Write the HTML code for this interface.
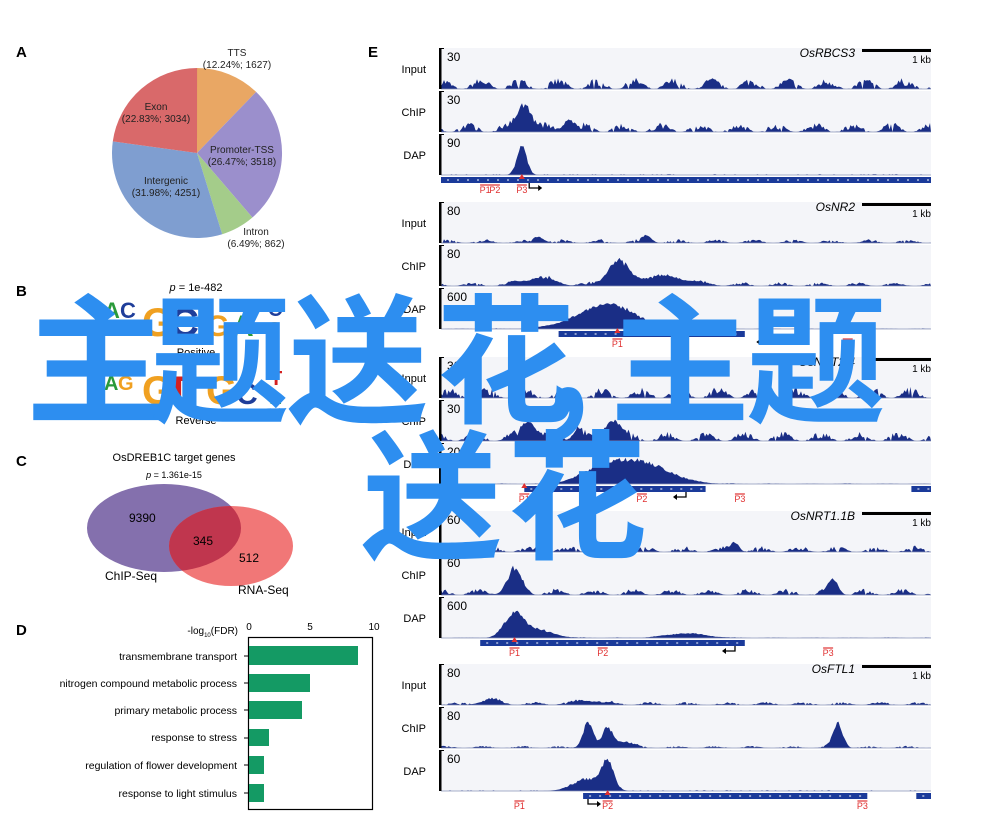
<!DOCTYPE html>
<html><head><meta charset="utf-8"><style>
body{margin:0;width:1000px;height:826px;background:#fff;position:relative;overflow:hidden;font-family:"Liberation Sans",Arial,sans-serif;}
#wm{position:absolute;left:0;top:0;font-family:"Noto Sans CJK SC",sans-serif;font-weight:bold;color:#2d8ef0;font-size:140px;line-height:1;white-space:nowrap;}
#wm span{position:absolute;}
</style></head><body>
<svg id="s" width="1000" height="826" xmlns="http://www.w3.org/2000/svg" font-family="Liberation Sans, Arial, sans-serif">
<text x="16" y="57" font-size="15" font-weight="bold">A</text>
<g id="pie"></g>
<g font-size="10" text-anchor="middle" fill="#222">
<text x="237" y="56">TTS</text><text x="237" y="68">(12.24%; 1627)</text>
<text x="156" y="110">Exon</text><text x="156" y="122">(22.83%; 3034)</text>
<text x="242" y="153">Promoter-TSS</text><text x="242" y="165">(26.47%; 3518)</text>
<text x="166" y="184">Intergenic</text><text x="166" y="196">(31.98%; 4251)</text>
<text x="256" y="235">Intron</text><text x="256" y="247">(6.49%; 862)</text>
</g>
<text x="16" y="296" font-size="15" font-weight="bold">B</text>
<text x="196" y="291" font-size="11" text-anchor="middle"><tspan font-style="italic">p</tspan> = 1e-482</text>
<g font-weight="bold" font-size="40" font-family="Liberation Sans">
<text x="104" y="318" fill="#2a9a3a" font-size="22">A</text><text x="120" y="318" fill="#1f3e9a" font-size="22">C</text>
<text x="142" y="336" fill="#f0a020">G</text><text x="170" y="336" fill="#1f3e9a">C</text>
<text x="206" y="336" fill="#f0a020" font-size="30">G</text><text x="232" y="336" fill="#2a9a3a" font-size="30">A</text>
<text x="268" y="316" fill="#1f3e9a" font-size="20">C</text><text x="268" y="333" fill="#f0a020" font-size="16">G</text>
<text x="104" y="390" fill="#2a9a3a" font-size="20">A</text><text x="118" y="390" fill="#f0a020" font-size="20">G</text>
<text x="142" y="404" fill="#f0a020">G</text><text x="166" y="404" fill="#d42020">T</text>
<text x="206" y="404" fill="#f0a020">G</text><text x="236" y="404" fill="#1f3e9a" font-size="30">C</text>
<text x="270" y="385" fill="#d42020" font-size="20">T</text><text x="270" y="404" fill="#2a9a3a" font-size="16">A</text>
</g>
<text x="196" y="356" font-size="11" text-anchor="middle">Positive</text>
<text x="196" y="424" font-size="11" text-anchor="middle">Reverse</text>
<text x="16" y="466" font-size="15" font-weight="bold">C</text>
<text x="174" y="461" font-size="11" text-anchor="middle">OsDREB1C target genes</text>
<text x="174" y="478" font-size="9" text-anchor="middle"><tspan font-style="italic">p</tspan> = 1.361e-15</text>
<ellipse cx="164" cy="528" rx="77" ry="44" fill="#8470ad"/>
<ellipse cx="231" cy="546" rx="62" ry="40" fill="#f07070" fill-opacity="0.95"/>
<clipPath id="cc"><ellipse cx="164" cy="528" rx="77" ry="44"/></clipPath>
<ellipse cx="231" cy="546" rx="62" ry="40" fill="#c0364e" clip-path="url(#cc)"/>
<g font-size="12"><text x="129" y="522">9390</text><text x="193" y="545">345</text><text x="239" y="562">512</text>
<text x="105" y="580">ChIP-Seq</text><text x="238" y="594">RNA-Seq</text></g>
<text x="16" y="635" font-size="15" font-weight="bold">D</text>
<text x="238" y="634" font-size="10" text-anchor="end">-log<tspan font-size="6" dy="3">10</tspan><tspan dy="-3">(FDR)</tspan></text>
<g font-size="10" text-anchor="middle"><text x="249" y="630">0</text><text x="310" y="630">5</text><text x="374" y="630">10</text></g>
<rect x="248.5" y="637.5" width="124" height="172" fill="none" stroke="#000" stroke-width="1.2"/>
<g fill="#149a64">
<rect x="249" y="646" width="109" height="19"/><rect x="249" y="674" width="61" height="18"/>
<rect x="249" y="701" width="53" height="18"/><rect x="249" y="729" width="20" height="17"/>
<rect x="249" y="756" width="15" height="18"/><rect x="249" y="784" width="15" height="18"/>
</g>
<g font-size="10.5" text-anchor="end">
<text x="237" y="660">transmembrane transport</text>
<text x="237" y="687">nitrogen compound metabolic process</text>
<text x="237" y="714">primary metabolic process</text>
<text x="237" y="741">response to stress</text>
<text x="237" y="769">regulation of flower development</text>
<text x="237" y="797">response to light stimulus</text>
</g>
<g stroke="#000"><line x1="244" y1="656" x2="249" y2="656"/><line x1="244" y1="683" x2="249" y2="683"/><line x1="244" y1="710" x2="249" y2="710"/><line x1="244" y1="738" x2="249" y2="738"/><line x1="244" y1="765" x2="249" y2="765"/><line x1="244" y1="793" x2="249" y2="793"/></g>
<text x="368" y="57" font-size="15" font-weight="bold">E</text>
<g id="tracks"></g>
</svg>
<div id="wm">
<span style="left:26px;top:282px">主</span>
<span style="left:150px;top:282px">题</span>
<span style="left:288px;top:282px">送</span>
<span style="left:436px;top:282px">花</span>
<span style="left:545px;top:282px">,</span>
<span style="left:610px;top:282px">主</span>
<span style="left:746px;top:282px">题</span>
<span style="left:362px;top:418px">送</span>
<span style="left:507px;top:418px">花</span>
</div>
<script>
var NS="http://www.w3.org/2000/svg";
function el(t,a,p){var e=document.createElementNS(NS,t);for(var k in a)e.setAttribute(k,a[k]);(p||document.getElementById('tracks')).appendChild(e);return e;}
var cx=197,cy=153,r=85,sl=[[12.24,'#e9a764'],[26.47,'#9b8fcc'],[6.49,'#a4cc8a'],[31.98,'#7f9ed0'],[22.83,'#d9696a']],a0=0;
sl.forEach(function(s){var a1=a0+s[0]*3.6;function pt(a){a=(a-90)*Math.PI/180;return (cx+r*Math.cos(a)).toFixed(1)+','+(cy+r*Math.sin(a)).toFixed(1);}
el('path',{d:'M'+cx+','+cy+' L'+pt(a0)+' A'+r+','+r+' 0 '+(a1-a0>180?1:0)+' 1 '+pt(a1)+' Z',fill:s[1]},document.getElementById('pie'));a0=a1;});
var seed=7;function rnd(){seed=(seed*16807)%2147483647;return seed/2147483647;}
var X0=441,X1=931,W=X1-X0;
var groups=[
 {t:46,name:'OsRBCS3',sc:['30','30','90'],tr:[[0.35,[]],[0.3,[[0.17,0.9,0.015],[0.26,0.4,0.01]]],[0.0,[[0.165,0.95,0.01]]]],
  gene:[[0,1]],P:[[0.09,'P1'],[0.11,'P2'],[0.165,'P3']],arr:[0.18,1]},
 {t:200,name:'OsNR2',sc:['80','80','600'],tr:[[0.12,[[0.2,0.2,0.01],[0.42,0.2,0.01]]],[0.12,[[0.2,0.25,0.03],[0.36,0.75,0.02],[0.45,0.3,0.05]]],[0.02,[[0.35,0.75,0.05],[0.28,0.2,0.05]]]],
  gene:[[0.24,0.62]],P:[[0.36,'P1'],[0.83,'P3']],arr:[0.67,-1]},
 {t:355,name:'OsNRT2.4',sc:['30','30','200'],tr:[[0.35,[]],[0.3,[[0.18,0.6,0.015],[0.35,0.7,0.015],[0.28,0.4,0.01]]],[0.02,[[0.4,0.75,0.06],[0.32,0.3,0.04]]]],
  gene:[[0.17,0.54],[0.96,1]],P:[[0.17,'P1'],[0.41,'P2'],[0.61,'P3']],arr:[0.5,-1]},
 {t:509,name:'OsNRT1.1B',sc:['60','60','600'],tr:[[0.2,[[0.6,0.3,0.008]]],[0.2,[[0.15,0.75,0.015],[0.8,0.5,0.01]]],[0.02,[[0.15,0.8,0.02],[0.2,0.25,0.03],[0.5,0.15,0.04]]]],
  gene:[[0.08,0.62]],P:[[0.15,'P1'],[0.33,'P2'],[0.79,'P3']],arr:[0.6,-1]},
 {t:662,name:'OsFTL1',sc:['80','80','60'],tr:[[0.1,[[0.1,0.15,0.02],[0.3,0.12,0.03]]],[0.07,[[0.3,0.85,0.01],[0.34,0.6,0.01],[0.37,0.2,0.02],[0.81,0.8,0.01]]],[0.0,[[0.34,0.9,0.012],[0.3,0.4,0.03]]]],
  gene:[[0.29,0.87],[0.97,1]],P:[[0.16,'P1'],[0.34,'P2'],[0.86,'P3']],arr:[0.3,1]}
];
var labs=['Input','ChIP','DAP'];
groups.forEach(function(g){
 for(var i=0;i<3;i++){
  var y0=g.t+2+i*43,h=41,yb=y0+h;
  el('rect',{x:X0,y:y0,width:W,height:h,fill:'#f4f5f9'});
  var tr=g.tr[i],base=tr[0],pk=tr[1],d='M'+X0+','+yb;
  for(var x=0;x<=W;x+=1.5){var f=x/W,v=0;
   if(base>0){v=base*(0.25+0.75*rnd())*(Math.pow(Math.abs(Math.sin(f*40+i+g.t*0.1)),2));if(rnd()<0.04)v=0;}
   else if(rnd()<0.15)v=0.02;
   pk.forEach(function(p){var z=(f-p[0])/p[2];v+=p[1]*Math.exp(-z*z/2)*(0.8+0.2*rnd());});
   v=Math.min(v,0.98);d+=' L'+(X0+x).toFixed(1)+','+(yb-v*(h-8)).toFixed(1);}
  d+=' L'+X1+','+yb+' Z';
  el('path',{d:d,fill:'#1a2e86'});
  el('line',{x1:X0,y1:yb,x2:X1,y2:yb,stroke:'#8a94b8','stroke-width':0.8});
  el('rect',{x:X0-2,y:y0,width:2.5,height:h,fill:'#000'});
  el('line',{x1:X0,y1:y0+0.5,x2:X0+3,y2:y0+0.5,stroke:'#000'});
  var tx=el('text',{x:X0+6,y:y0+13,'font-size':12});tx.textContent=g.sc[i];
  var lb=el('text',{x:426,y:y0+25,'font-size':11,'text-anchor':'end'});lb.textContent=labs[i];
 }
 var gy=g.t+134;
 g.gene.forEach(function(s){el('rect',{x:X0+s[0]*W,y:gy-3,width:(s[1]-s[0])*W,height:6,fill:'#1a3a9a'});
  for(var xx=X0+s[0]*W+6;xx<X0+s[1]*W-3;xx+=10)el('rect',{x:xx,y:gy-0.5,width:2,height:1,fill:'#fff'});});
 g.P.forEach(function(p,k){var px=X0+p[0]*W;el('line',{x1:px-5,y1:gy+5,x2:px+5,y2:gy+5,stroke:'#e03030','stroke-width':1.2});
  var t=el('text',{x:px,y:gy+13,'font-size':9,fill:'#e03030','text-anchor':'middle'});t.textContent=p[1];
  if(k==(g.name=='OsRBCS3'?2:(g.name=='OsFTL1'?1:0)))el('path',{d:'M'+(px-3)+','+(gy-1)+' L'+(px+3)+','+(gy-1)+' L'+px+','+(gy-6)+' Z',fill:'#e03030'});});
 var ax=X0+g.arr[0]*W,dir=g.arr[1];
 el('path',{d:'M'+ax+','+(gy+3)+' L'+ax+','+(gy+8)+' L'+(ax+dir*10)+','+(gy+8),stroke:'#000',fill:'none','stroke-width':1.3});
 el('path',{d:'M'+(ax+dir*13)+','+(gy+8)+' L'+(ax+dir*9)+','+(gy+5)+' L'+(ax+dir*9)+','+(gy+11)+' Z',fill:'#000'});
 el('rect',{x:862,y:g.t+3,width:69,height:3,fill:'#000'});
 var kb=el('text',{x:931,y:g.t+17,'font-size':10,'text-anchor':'end'});kb.textContent='1 kb';
 var nm=el('text',{x:855,y:g.t+11,'font-size':12,'font-style':'italic','text-anchor':'end'});nm.textContent=g.name;
});
</script>
</body></html>
